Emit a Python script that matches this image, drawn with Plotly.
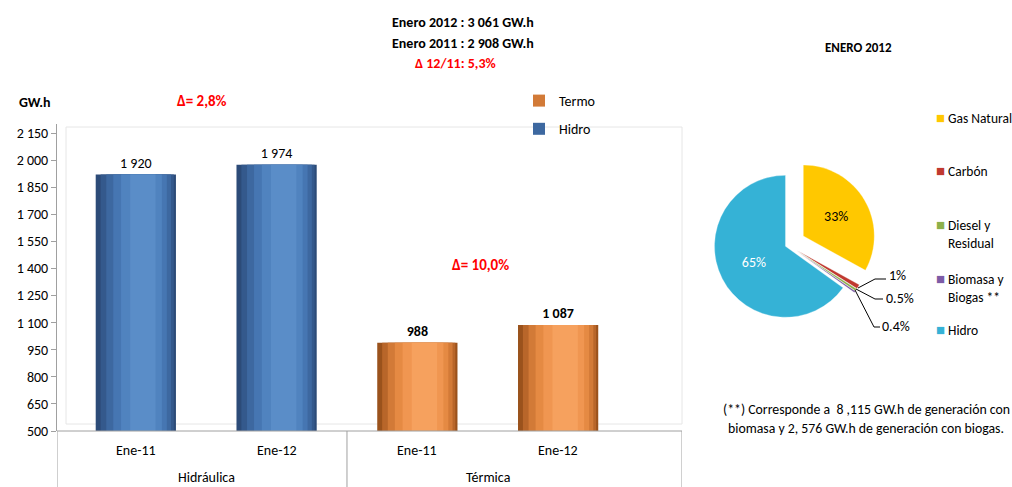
import plotly.graph_objects as go

# ---------------- data ----------------
bar_cats = ["Ene-11", "Ene-12", "Ene-11", "Ene-12"]
groups = ["Hidráulica", "Térmica"]
hidro_vals = [1920, 1974]
termo_vals = [988, 1087]
y_ticks = [500, 650, 800, 950, 1100, 1250, 1400, 1550, 1700, 1850, 2000, 2150]

pie_labels = ["Gas Natural", "Carbón", "Diesel y<br>Residual", "Biomasa y<br>Biogas **", "Hidro"]
pie_values = [33, 1, 0.5, 0.4, 65]
pie_text = ["33%", "1%", "0.5%", "0.4%", "65%"]
pie_colors = ["#FFC800", "#C0392F", "#8DB04A", "#7D5BA6", "#35B2D6"]

W, H = 1012, 487
FONT = "Carlito, Liberation Sans, Arial, sans-serif"

def fmt(v):
    return f"{v:,}".replace(",", " ")

def px(xp):
    return xp / W

def py(yp):
    return (H - yp) / H

fig = go.Figure()

# cylinder-like shading: overlay layers of the same bars
hidro_shades = [("#2C4B78", 0.57, 0.0), ("#34598C", 0.52, 0.01), ("#3D68A0", 0.46, 0.02),
                ("#4676B2", 0.38, 0.03), ("#5083BF", 0.29, 0.04), ("#5A8DC8", 0.18, 0.05)]
termo_shades = [("#9A521C", 0.57, 0.0), ("#B8662A", 0.52, 0.01), ("#D27A37", 0.46, 0.02),
                ("#E58A43", 0.38, 0.03), ("#F09651", 0.29, 0.04), ("#F6A15E", 0.18, 0.05)]

def add_bars(xs, vals, name, shades, bold, rank):
    for k, (col, w, off) in enumerate(shades):
        fig.add_trace(go.Bar(
            x=[xv + off for xv in xs], y=vals, name=name, width=w,
            marker=dict(color=col, line=dict(width=0)),
            showlegend=(k == 2), legendrank=rank, legendgroup=name,
            text=[fmt(v) for v in vals] if k == 0 else None,
            textposition="outside" if k == 0 else "none",
            texttemplate="<b>%{text}</b>" if (bold and k == 0) else None,
            textfont=dict(size=14, color="black", family=FONT),
            cliponaxis=False, hoverinfo="y" if k == 0 else "skip",
        ))

add_bars([0, 1], hidro_vals, "Hidro", hidro_shades, False, 2)
add_bars([2, 3], termo_vals, "Termo", termo_shades, True, 1)

# pie
pie_pull = [0.25, 0.15, 0.15, 0.15, 0.04]
cx, cy, r = 788, 245, 71
half = r * (1 + max(pie_pull))
fig.add_trace(go.Pie(
    labels=pie_labels, values=pie_values, sort=False, direction="clockwise",
    rotation=0, pull=pie_pull,
    marker=dict(colors=pie_colors, line=dict(color="rgba(255,255,255,0.6)", width=0.5)),
    text=[pie_text[0], "", "", "", pie_text[4]], textinfo="text",
    textposition="inside", insidetextorientation="horizontal",
    textfont=dict(size=14, family=FONT, color=["black", "white", "white", "white", "white"]),
    domain=dict(x=[px(cx - half), px(cx + half)], y=[py(cy + half), py(cy - half)]),
    showlegend=False, hoverinfo="label+percent",
))

x_range = [-0.56, 3.88]
fig.update_layout(
    template="none",
    width=W, height=H, autosize=False,
    margin=dict(l=0, r=0, t=0, b=0, pad=0, autoexpand=False),
    paper_bgcolor="white", plot_bgcolor="white",
    font=dict(family=FONT, size=14, color="black"),
    barmode="overlay",
    xaxis=dict(domain=[px(57), px(682)], range=x_range, showticklabels=False,
               showgrid=False, zeroline=False, showline=False, fixedrange=True,
               automargin=False, ticks=""),
    yaxis=dict(domain=[py(431), py(124)], range=[500, 2200],
               tickvals=y_ticks, ticktext=[fmt(v) for v in y_ticks],
               ticks="outside", ticklen=5, tickcolor="#A0A0A0",
               showline=True, linecolor="#A0A0A0", showgrid=False, zeroline=False,
               automargin=False, tickfont=dict(size=14, family=FONT)),
    legend=dict(x=px(519), y=py(85), xanchor="left", yanchor="top",
                traceorder="grouped", tracegroupgap=7,
                font=dict(size=14, family=FONT), bgcolor="rgba(0,0,0,0)"),
    showlegend=True,
)

shapes = []
shapes.append(dict(type="line", xref="paper", yref="paper", x0=px(57), x1=px(682),
                   y0=py(431), y1=py(431), line=dict(color="#A0A0A0", width=1)))
for xv in [x_range[0], 1.5, x_range[1]]:
    shapes.append(dict(type="line", xref="x", yref="paper", x0=xv, x1=xv,
                       y0=py(431), y1=0, line=dict(color="#A0A0A0", width=1)))
shapes.append(dict(type="rect", xref="paper", yref="paper", x0=px(66), x1=px(682),
                   y0=py(424), y1=py(127), line=dict(color="#E6E6E6", width=1),
                   layer="below"))

# elbow leader lines for the small pie slices
leaders = [((858, 288), (875, 279), (886, 279)),
           ((856, 289), (875, 299), (883, 299)),
           ((855, 290), (874, 327), (880, 327))]
for a, b, c in leaders:
    for (x0, y0), (x1, y1) in [(a, b), (b, c)]:
        shapes.append(dict(type="line", xref="paper", yref="paper",
                           x0=px(x0), y0=py(y0), x1=px(x1), y1=py(y1),
                           line=dict(color="black", width=1)))
fig.update_layout(shapes=shapes)

ann = []
for i, c in enumerate(bar_cats):
    ann.append(dict(x=i, y=py(450), xref="x", yref="paper", text=c, showarrow=False,
                    yanchor="middle", font=dict(size=14)))
for gi, g in enumerate(groups):
    ann.append(dict(x=0.5 + 2 * gi, y=py(477), xref="x", yref="paper", text=g,
                    showarrow=False, yanchor="middle", font=dict(size=14)))

def add_text(x, y, t, size=14, color="black", bold=False, xanchor="center"):
    ann.append(dict(x=px(x), y=py(y), xref="paper", yref="paper",
                    text=f"<b>{t}</b>" if bold else t, showarrow=False,
                    xanchor=xanchor, yanchor="middle",
                    font=dict(size=size, color=color, family=FONT)))

add_text(463, 22, "Enero 2012 : 3 061 GW.h", bold=True)
add_text(463, 43, "Enero 2011 : 2 908 GW.h", bold=True)
add_text(455, 64, "Δ 12/11: 5,3%", color="red", bold=True)
add_text(35, 103, "GW.h", bold=True)
add_text(202, 101, "Δ= 2,8%", color="red", bold=True, size=15)
add_text(480, 265, "Δ= 10,0%", color="red", bold=True, size=15)
add_text(858, 47, "ENERO 2012", bold=True, size=13)
add_text(866, 410, "(**) Corresponde a  8 ,115 GW.h de generación con", size=13.8)
add_text(866, 428, "biomasa y 2, 576 GW.h de generación con biogas.", size=13.8)

# pie legend (custom)
leg_y = [118, 171, 225, 279, 330]
for lab, col, yy in zip(pie_labels, pie_colors, leg_y):
    ann.append(dict(x=px(940), y=py(yy), xref="paper", yref="paper", text="■",
                    showarrow=False, font=dict(size=15, color=col), xanchor="center",
                    yanchor="middle"))
    ann.append(dict(x=px(946), y=py(yy - 10), xref="paper", yref="paper", text=lab,
                    showarrow=False, align="left", xanchor="left", yanchor="top",
                    font=dict(size=13.5, family=FONT)))

# small pie labels
for t, (x, y) in zip(pie_text[1:4], [(897, 275), (900, 298), (896, 326)]):
    add_text(x, y, t, size=14)

fig.update_layout(annotations=ann)
fig.write_html(
    "out.html",
    config={"displayModeBar": False},
    post_script=("document.documentElement.style.overflow='hidden';"
                 "document.body.style.margin='0';document.body.style.overflow='hidden';"),
)
